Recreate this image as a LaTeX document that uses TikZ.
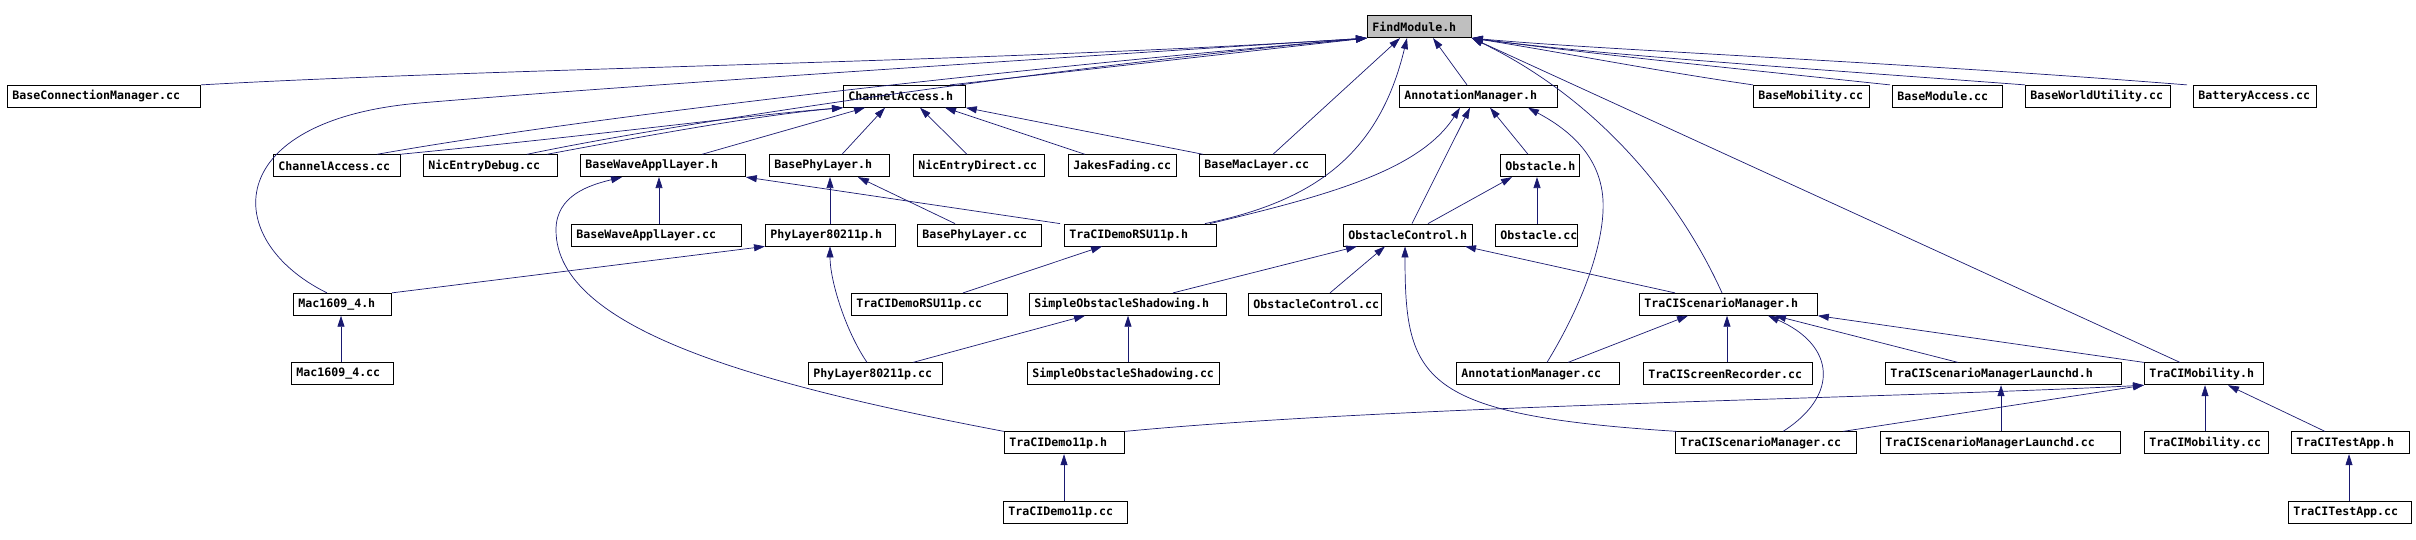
\documentclass[tikz,border=0pt]{standalone}
\usepackage{fontspec}
\newfontfamily\dxmono[HyphenChar=None]{DejaVu Sans Mono}
\usetikzlibrary{arrows.meta}
\definecolor{edgeblue}{RGB}{25,25,112}
\definecolor{rootgray}{RGB}{191,191,191}
\begin{document}
\begin{tikzpicture}[x=1pt,y=-1pt,
  file/.style={draw=black, line width=0.8pt, anchor=west, text width=#1pt, align=left,
    inner xsep=5pt, inner ysep=0pt, minimum height=22pt,
    font=\dxmono\bfseries\fontsize{11.6pt}{13pt}\selectfont},
  dep/.style={draw=edgeblue, line width=0.7pt, -{Triangle[length=11pt,width=7pt]}}]
\def\rz{26.7}
\def\ra{96.3}
\def\rb{165.7}
\def\rc{235}
\def\rd{304.3}
\def\re{373.8}
\def\rf{442.8}
\def\rg{512.3}
\useasboundingbox (0,0) rectangle (2416,540);
% Root
\node[file=94, fill=rootgray] (fm) at (1367,\rz) {FindModule.h};
% Row 1
\node[file=183] (bcm) at (7,\ra) {BaseConnectionManager.cc};
\node[file=112] (chh) at (843,\ra) {ChannelAccess.h};
\node[file=148] (amh) at (1399,\ra) {AnnotationManager.h};
\node[file=106] (bmob) at (1753,\ra) {BaseMobility.cc};
\node[file=100] (bmod) at (1892,\ra) {BaseModule.cc};
\node[file=135] (bwu) at (2025,\ra) {BaseWorldUtility.cc};
\node[file=113] (bat) at (2193,\ra) {BatteryAccess.cc};
% Row 2
\node[file=117] (chcc) at (273,\rb) {ChannelAccess.cc};
\node[file=124] (nedbg) at (423,\rb) {NicEntryDebug.cc};
\node[file=155] (bwah) at (580,\rb) {BaseWaveApplLayer.h};
\node[file=110] (bphh) at (769,\rb) {BasePhyLayer.h};
\node[file=121] (nedir) at (913,\rb) {NicEntryDirect.cc};
\node[file=98] (jakes) at (1068,\rb) {JakesFading.cc};
\node[file=116] (bmac) at (1199,\rb) {BaseMacLayer.cc};
\node[file=69] (obsh) at (1500,\rb) {Obstacle.h};
% Row 3
\node[file=160] (bwacc) at (571,\rc) {BaseWaveApplLayer.cc};
\node[file=120] (phyh) at (765,\rc) {PhyLayer80211p.h};
\node[file=114] (bphcc) at (917,\rc) {BasePhyLayer.cc};
\node[file=142] (rsuh) at (1064,\rc) {TraCIDemoRSU11p.h};
\node[file=119] (obch) at (1343,\rc) {ObstacleControl.h};
\node[file=72] (obscc) at (1495,\rc) {Obstacle.cc};
% Row 4
\node[file=88] (mach) at (293,\rd) {Mac1609\_4.h};
\node[file=146] (rsucc) at (851,\rd) {TraCIDemoRSU11p.cc};
\node[file=187] (sosh) at (1029,\rd) {SimpleObstacleShadowing.h};
\node[file=123] (obccc) at (1248,\rd) {ObstacleControl.cc};
\node[file=168] (tsmh) at (1639,\rd) {TraCIScenarioManager.h};
% Row 5
\node[file=92] (maccc) at (291,\re) {Mac1609\_4.cc};
\node[file=124] (phycc) at (808,\re) {PhyLayer80211p.cc};
\node[file=182] (soscc) at (1027,\re) {SimpleObstacleShadowing.cc};
\node[file=153] (amcc) at (1456,\re) {AnnotationManager.cc};
\node[file=159] (tsr) at (1643,\re) {TraCIScreenRecorder.cc};
\node[file=226] (tsmlh) at (1885,\re) {TraCIScenarioManagerLaunchd.h};
\node[file=109] (tmobh) at (2144,\re) {TraCIMobility.h};
% Row 6
\node[file=110] (d11h) at (1004,\rf) {TraCIDemo11p.h};
\node[file=171] (tsmcc) at (1675,\rf) {TraCIScenarioManager.cc};
\node[file=230] (tsmlcc) at (1880,\rf) {TraCIScenarioManagerLaunchd.cc};
\node[file=114] (tmobcc) at (2144,\rf) {TraCIMobility.cc};
\node[file=108] (tapph) at (2291,\rf) {TraCITestApp.h};
% Row 7
\node[file=114] (d11cc) at (1003,\rg) {TraCIDemo11p.cc};
\node[file=113] (tappcc) at (2288,\rg) {TraCITestApp.cc};
% Edges into FindModule.h
\draw[dep] (bcm.north east) .. controls (500,68) and (1000,62) .. (fm.south west);
\draw[dep] (chh.north -| 950,0) -- (fm.south west);
\draw[dep] (chcc.north -| 377,0) .. controls (600,115) and (1000,70) .. (fm.south west);
\draw[dep] (nedbg.north -| 527,0) .. controls (700,118) and (1100,62) .. (fm.south west);
\draw[dep] (mach.north -| 327,0) .. controls (220,240) and (220,120) .. (420,103)
  .. controls (620,86) and (1100,55) .. (fm.south west);
\draw[dep] (bmac.north -| 1273,0) -- (fm.south -| 1400,0);
\draw[dep] (rsuh.north -| 1205,0) .. controls (1320,200) and (1380,150) .. (fm.south -| 1407,0);
\draw[dep] (amh.north -| 1467,0) -- (fm.south -| 1433,0);
\draw[dep] (bmob.north -| 1753,0) .. controls (1650,70) and (1560,52) .. (fm.south east);
\draw[dep] (bmod.north -| 1890,0) .. controls (1750,70) and (1600,55) .. (fm.south east);
\draw[dep] (bwu.north -| 2025,0) .. controls (1800,68) and (1600,55) .. (fm.south east);
\draw[dep] (bat.north -| 2187,0) .. controls (1900,62) and (1600,50) .. (fm.south east);
\draw[dep] (tsmh.north -| 1722,0) .. controls (1680,200) and (1600,100) .. (fm.south east);
\draw[dep] (tmobh.north -| 2180,0) -- (fm.south east);
% Edges into ChannelAccess.h
\draw[dep] (chcc.north -| 400,0) .. controls (600,135) and (750,115) .. (chh.south west);
\draw[dep] (nedbg.north -| 547,0) .. controls (650,135) and (760,115) .. (chh.south west);
\draw[dep] (bwah.north -| 702,0) -- (chh.south -| 865,0);
\draw[dep] (bphh.north -| 842,0) -- (chh.south -| 885,0);
\draw[dep] (nedir.north -| 967,0) -- (chh.south -| 920,0);
\draw[dep] (jakes.north -| 1085,0) -- (chh.south -| 945,0);
\draw[dep] (bmac.north -| 1203,0) -- (chh.south east);
% Edges into BaseWaveApplLayer.h and BasePhyLayer.h
\draw[dep] (bwacc.north -| 659,0) -- (bwah.south -| 659,0);
\draw[dep] (d11h.north west) .. controls (760,385) and (556,330) .. (556,230)
  .. controls (556,195) and (590,185) .. (bwah.south -| 622,0);
\draw[dep] (rsuh.north -| 1060,0) -- (bwah.south east);
\draw[dep] (phyh.north -| 830,0) -- (bphh.south -| 830,0);
\draw[dep] (bphcc.north -| 955,0) -- (bphh.south -| 858,0);
% Edges into PhyLayer80211p.h and TraCIDemoRSU11p.h
\draw[dep] (mach.north east) -- (phyh.south west);
\draw[dep] (phycc.north -| 867,0) .. controls (845,330) and (830,280) .. (phyh.south -| 830,0);
\draw[dep] (rsucc.north -| 963,0) -- (rsuh.south -| 1102,0);
% Edges into AnnotationManager.h and Obstacle.h
\draw[dep] (rsuh.north -| 1210,0) .. controls (1330,195) and (1420,170) .. (amh.south -| 1460,0);
\draw[dep] (obch.north -| 1412,0) -- (amh.south -| 1470,0);
\draw[dep] (obsh.north -| 1528,0) -- (amh.south -| 1490,0);
\draw[dep] (amcc.north -| 1547,0) .. controls (1585,300) and (1605,240) .. (1603,200)
  .. controls (1600,150) and (1560,125) .. (amh.south -| 1528,0);
\draw[dep] (obch.north -| 1428,0) -- (obsh.south -| 1512,0);
\draw[dep] (obscc.north -| 1537,0) -- (obsh.south -| 1537,0);
% Edges into ObstacleControl.h and SimpleObstacleShadowing.h
\draw[dep] (sosh.north -| 1173,0) -- (obch.south -| 1357,0);
\draw[dep] (obccc.north -| 1330,0) -- (obch.south -| 1385,0);
\draw[dep] (tsmcc.north -| 1677,0) .. controls (1420,415) and (1405,380) .. (obch.south -| 1405,0);
\draw[dep] (tsmh.north -| 1675,0) -- (obch.south -| 1465,0);
\draw[dep] (phycc.north -| 913,0) -- (sosh.south -| 1085,0);
\draw[dep] (soscc.north -| 1128,0) -- (sosh.south -| 1128,0);
% Edges into TraCIScenarioManager.h
\draw[dep] (amcc.north -| 1568,0) -- (tsmh.south -| 1688,0);
\draw[dep] (tsr.north -| 1727,0) -- (tsmh.south -| 1727,0);
\draw[dep] (tsmcc.north -| 1783,0) .. controls (1840,395) and (1835,345) .. (tsmh.south -| 1768,0);
\draw[dep] (tsmlh.north -| 1958,0) -- (tsmh.south -| 1775,0);
\draw[dep] (tmobh.north west) -- (tsmh.south east);
\draw[dep] (tsmlcc.north -| 2001,0) -- (tsmlh.south -| 2001,0);
% Edges into TraCIMobility.h
\draw[dep] (d11h.north east) .. controls (1400,405) and (1900,398) .. (tmobh.south west);
\draw[dep] (tsmcc.north -| 1843,0) -- (tmobh.south west);
\draw[dep] (tmobcc.north -| 2205,0) -- (tmobh.south -| 2205,0);
\draw[dep] (tapph.north -| 2325,0) -- (tmobh.south -| 2228,0);
% Leaf edges
\draw[dep] (tappcc.north -| 2349,0) -- (tapph.south -| 2349,0);
\draw[dep] (d11cc.north -| 1064,0) -- (d11h.south -| 1064,0);
\draw[dep] (maccc.north -| 341,0) -- (mach.south -| 341,0);
\end{tikzpicture}
\end{document}
